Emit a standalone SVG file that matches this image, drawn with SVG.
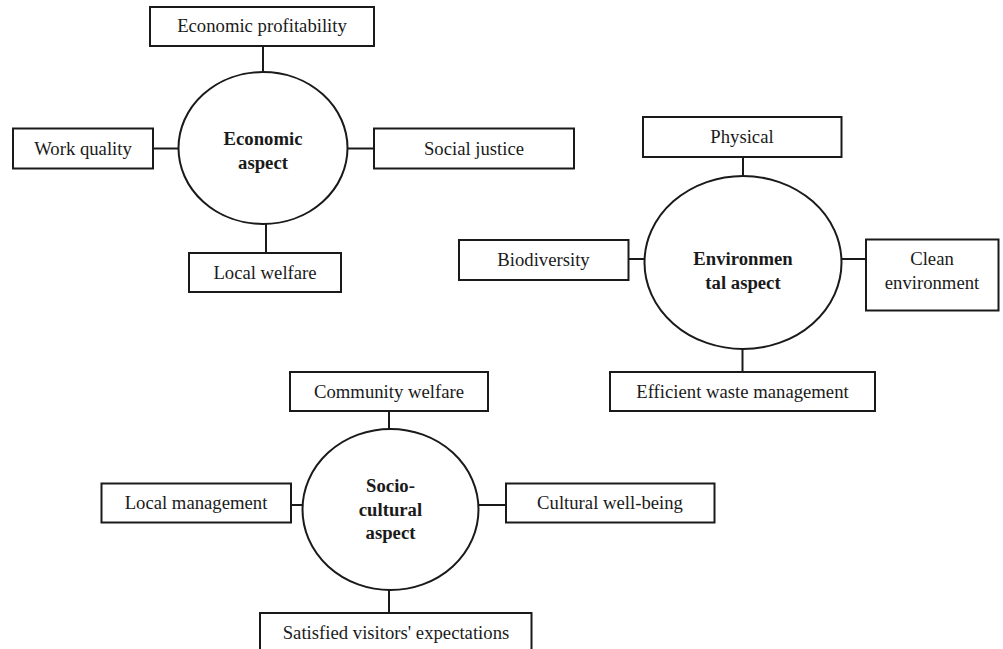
<svg xmlns="http://www.w3.org/2000/svg" width="1003" height="649" viewBox="0 0 1003 649">
<style>
.box{fill:#fff;stroke:#1a1a1a;stroke-width:2}
.hub{fill:#fff;stroke:#1a1a1a;stroke-width:2}
.ln{stroke:#1a1a1a;stroke-width:2;fill:none}
text{font-family:"Liberation Serif","Times New Roman",serif;font-size:18.7px;fill:#1a1a1a;text-anchor:middle}
.b{font-weight:bold}
</style>
<rect width="1003" height="649" fill="#fff"/>
<g id="connectors">
<line class="ln" x1="263" y1="46" x2="263" y2="72"/>
<line class="ln" x1="153" y1="148.5" x2="179" y2="148.5"/>
<line class="ln" x1="347" y1="148.5" x2="374" y2="148.5"/>
<line class="ln" x1="266" y1="224" x2="266" y2="253"/>
<line class="ln" x1="743" y1="157" x2="743" y2="176"/>
<line class="ln" x1="628" y1="259" x2="645" y2="259"/>
<line class="ln" x1="841" y1="259" x2="866" y2="259"/>
<line class="ln" x1="742.5" y1="349" x2="742.5" y2="372"/>
<line class="ln" x1="389" y1="411" x2="389" y2="429"/>
<line class="ln" x1="291" y1="505" x2="303" y2="505"/>
<line class="ln" x1="478" y1="505" x2="506" y2="505"/>
<line class="ln" x1="389" y1="590" x2="389" y2="613"/>
</g>
<g id="economic">
<ellipse class="hub" cx="263" cy="148" rx="84.5" ry="76"/>
<text class="b" x="263" y="145">Economic</text>
<text class="b" x="263" y="169">aspect</text>
</g>
<g id="econ-profit">
<rect class="box" x="150" y="7" width="224" height="39"/>
<text x="262" y="32">Economic profitability</text>
</g>
<g id="work-quality">
<rect class="box" x="13" y="128.5" width="140" height="40"/>
<text x="83" y="154.5">Work quality</text>
</g>
<g id="social-justice">
<rect class="box" x="374" y="128.5" width="200" height="40"/>
<text x="474" y="154.5">Social justice</text>
</g>
<g id="local-welfare">
<rect class="box" x="189" y="253" width="152" height="39"/>
<text x="265" y="278.5">Local welfare</text>
</g>
<g id="environmental">
<ellipse class="hub" cx="743" cy="262.5" rx="98.5" ry="86.5"/>
<text class="b" x="743" y="265">Environmen</text>
<text class="b" x="743" y="289">tal aspect</text>
</g>
<g id="physical">
<rect class="box" x="643" y="117" width="198.5" height="40"/>
<text x="742" y="142.5">Physical</text>
</g>
<g id="biodiversity">
<rect class="box" x="459" y="240" width="169.5" height="40"/>
<text x="543.5" y="265.5">Biodiversity</text>
</g>
<g id="clean-env">
<rect class="box" x="866" y="239.5" width="132.5" height="71"/>
<text x="932" y="265">Clean</text>
<text x="932" y="289">environment</text>
</g>
<g id="waste">
<rect class="box" x="610" y="372" width="265" height="39"/>
<text x="742.5" y="397.5">Efficient waste management</text>
</g>
<g id="sociocultural">
<ellipse class="hub" cx="390.5" cy="509.5" rx="88" ry="80.5"/>
<text class="b" x="390.5" y="492">Socio-</text>
<text class="b" x="390.5" y="515.5">cultural</text>
<text class="b" x="390.5" y="539">aspect</text>
</g>
<g id="community">
<rect class="box" x="290" y="372" width="198" height="39"/>
<text x="389" y="397.5">Community welfare</text>
</g>
<g id="local-mgmt">
<rect class="box" x="101.5" y="483.5" width="189.5" height="39"/>
<text x="196" y="509">Local management</text>
</g>
<g id="cultural">
<rect class="box" x="506" y="483.5" width="208.5" height="39"/>
<text x="610" y="509">Cultural well-being</text>
</g>
<g id="visitors">
<rect class="box" x="260" y="613" width="271.5" height="50"/>
<text x="396" y="638.5">Satisfied visitors' expectations</text>
</g>
</svg>
